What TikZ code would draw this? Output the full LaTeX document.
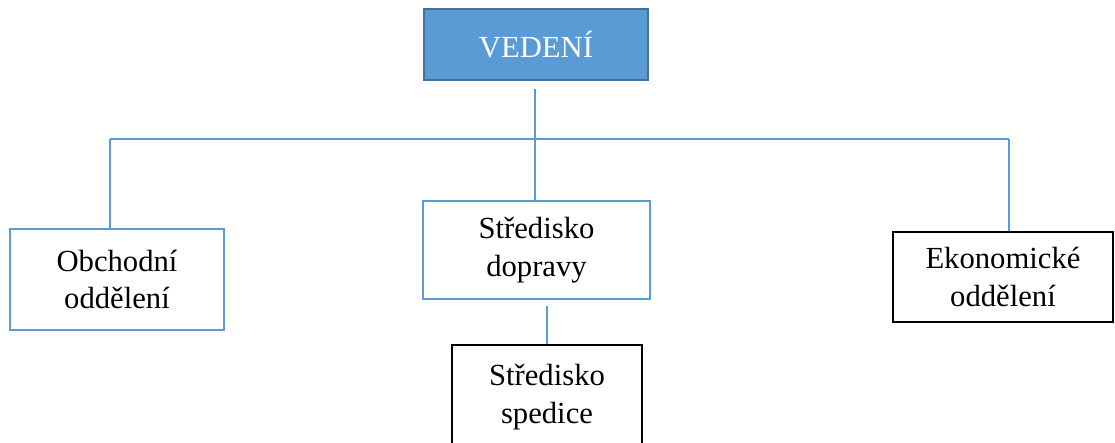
\documentclass[tikz,border=0pt]{standalone}
\usepackage{fontspec}
\setmainfont{Liberation Serif}
\usepackage{xcolor}
\definecolor{vedblue}{HTML}{5B9BD5}
\definecolor{veddark}{HTML}{41719C}
\begin{document}
\begin{tikzpicture}[x=0.75pt,y=-0.75pt,
    box/.style={draw=black,line width=1.1pt,align=center,inner sep=0pt,
      font=\fontsize{23}{28}\selectfont},
    bluebox/.style={box,draw=vedblue},
    headbox/.style={box,fill=vedblue,draw=veddark,text=white},
    link/.style={draw=vedblue,line width=0.8pt}]
  \useasboundingbox (0,0) rectangle (1115,443);
  % boxes
  \node[headbox,minimum width=168pt,minimum height=53.25pt] (vedeni) at (536,44.5) {VEDENÍ};
  \node[bluebox,minimum width=160.5pt,minimum height=75.75pt] (obchod) at (117,279.5) {Obchodní\\oddělení};
  \node[bluebox,minimum width=170.25pt,minimum height=73.5pt] (doprava) at (536.5,250) {Středisko\\dopravy};
  \node[box,minimum width=142.5pt,minimum height=78pt] (spedice) at (547,397) {Středisko\\spedice};
  \node[box,minimum width=165pt,minimum height=67.5pt] (ekonom) at (1003,277) {Ekonomické\\oddělení};
  % bus line
  \coordinate (bus) at (535,139);
  \coordinate (busL) at (110,139);
  \coordinate (busR) at (1009,139);
  \draw[link,shorten <=6pt] (vedeni.south -| bus) -- (bus);
  \draw[link] (busL) -- (busR);
  \draw[link] (busL) -- (busL |- obchod.north);
  \draw[link] (bus) -- (bus |- doprava.north);
  \draw[link] (busR) -- (busR |- ekonom.north);
  \draw[link,shorten >=4.5pt] (spedice.north) -- (spedice.north |- doprava.south);
\end{tikzpicture}
\end{document}
